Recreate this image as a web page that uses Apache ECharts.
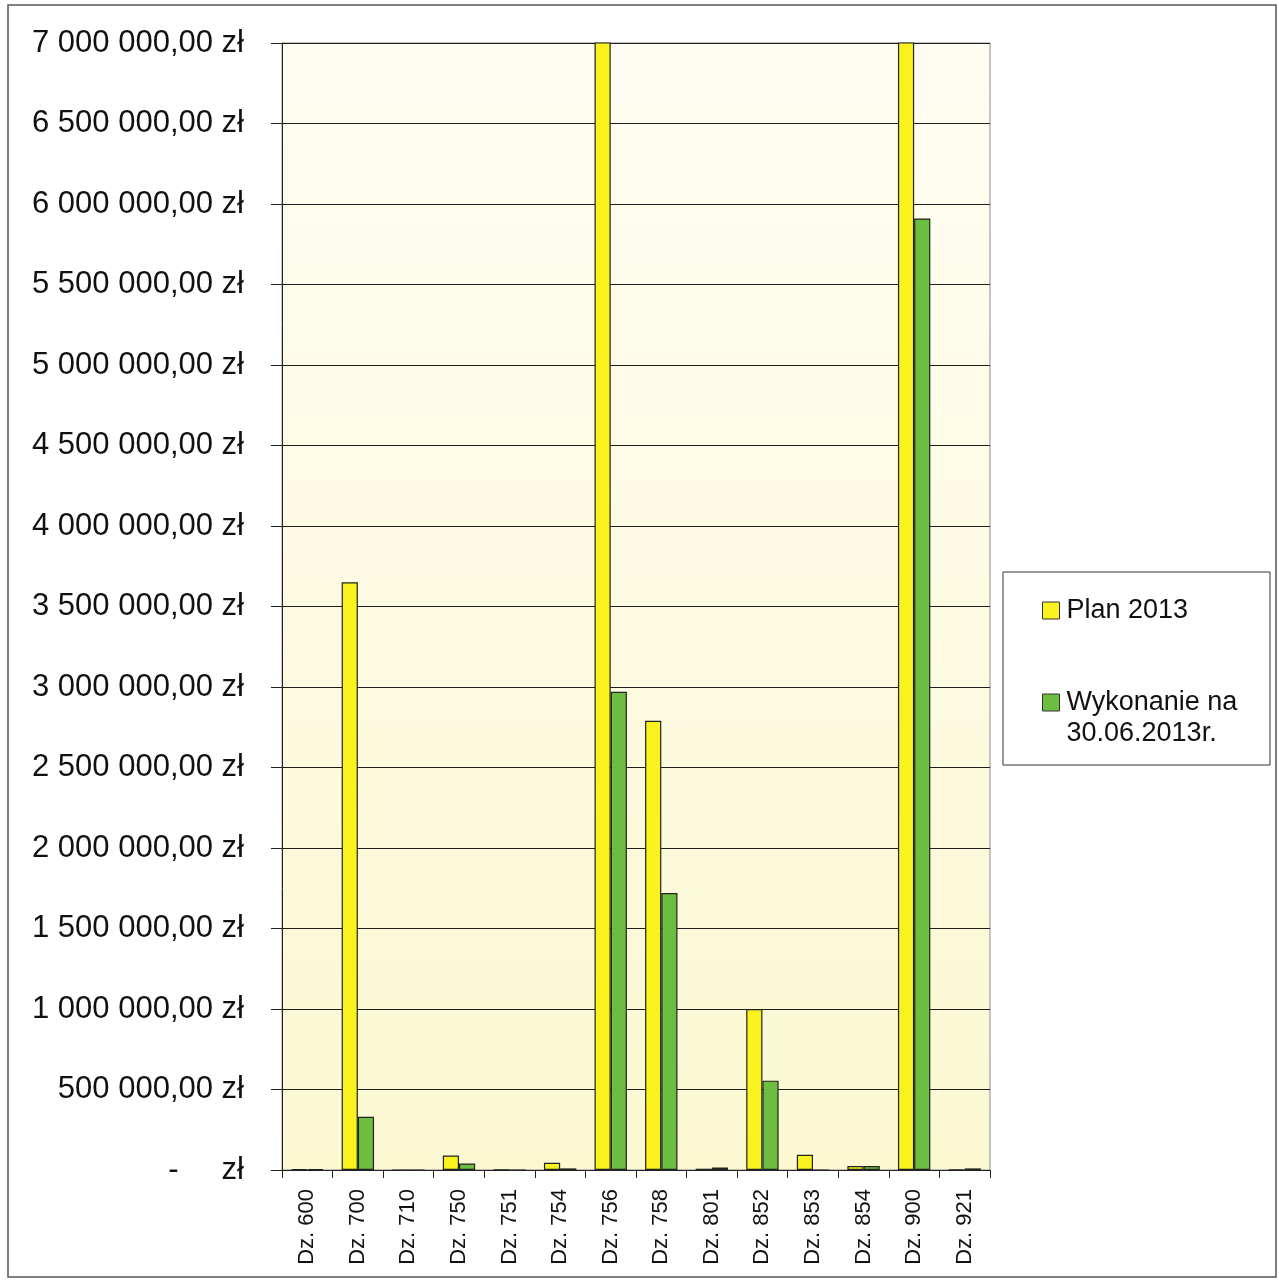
<!DOCTYPE html>
<html>
<head>
<meta charset="utf-8">
<script src="https://cdn.jsdelivr.net/npm/echarts@6/dist/echarts.min.js"></script>
<style>html,body{margin:0;padding:0;background:#fff}#c{width:1279px;height:1281px}</style>
</head>
<body>
<div id="c"></div>
<script>
const categories = ['Dz. 600','Dz. 700','Dz. 710','Dz. 750','Dz. 751','Dz. 754','Dz. 756','Dz. 758','Dz. 801','Dz. 852','Dz. 853','Dz. 854','Dz. 900','Dz. 921'];
const planValues = [5000, 3650000, 0, 90000, 1000, 45000, 7600000, 2790000, 8000, 1000000, 95000, 25000, 7600000, 3000];
const wykonanieValues = [5000, 330000, 0, 40000, 0, 10000, 2970000, 1720000, 15000, 555000, 0, 25000, 5910000, 10000];
const seriesNames = ['Plan 2013', 'Wykonanie na\n30.06.2013r.'];
const yTicks = {min: 0, max: 7000000, interval: 500000};

function fmt(v){
  if (v === 0) return '-     zł';
  return String(Math.round(v)).replace(/\B(?=(\d{3})+(?!\d))/g, ' ') + ',00 zł';
}

const chart = echarts.init(document.getElementById('c'));
const FONT = 'Liberation Sans, Arial, sans-serif';
chart.setOption({
  backgroundColor: '#ffffff',
  animation: false,
  textStyle: {fontFamily: FONT},
  grid: {
    left: 282, right: 289, top: 43, bottom: 111,
    show: true,
    borderColor: '#8a8a8a', borderWidth: 1,
    backgroundColor: new echarts.graphic.LinearGradient(0, 0, 0, 1, [
      {offset: 0, color: '#fffdf2'},
      {offset: 1, color: '#fbf8d2'}
    ])
  },
  legend: {
    orient: 'vertical',
    left: 1037, top: 592,
    itemWidth: 17, itemHeight: 17,
    itemGap: 34,
    icon: 'rect',
    data: seriesNames,
    formatter: function(name){
      return name === seriesNames[0] ? '{a|' + name + '}' : '{b|\n' + name + '}';
    },
    itemStyle: {borderColor: '#333', borderWidth: 1},
    textStyle: {
      fontFamily: FONT, fontSize: 27, color: '#111',
      rich: {
        a: {fontFamily: FONT, fontSize: 27, color: '#111', lineHeight: 31, padding: [0, 0, 0, 2]},
        b: {fontFamily: FONT, fontSize: 27, color: '#111', lineHeight: 31, padding: [0, 0, 0, 2]}
      }
    }
  },
  graphic: [
    {type: 'rect', shape: {x: 8, y: 5, width: 1268, height: 1272}, style: {fill: 'none', stroke: '#555', lineWidth: 1.5}, silent: true},
    {type: 'rect', shape: {x: 1003, y: 572, width: 267, height: 193}, style: {fill: 'none', stroke: '#333', lineWidth: 1}, silent: true}
  ],
  xAxis: {
    type: 'category',
    data: categories,
    axisLine: {lineStyle: {color: '#222', width: 1}},
    axisTick: {show: true, interval: 0, length: 8, lineStyle: {color: '#222'}},
    axisLabel: {rotate: 90, interval: 0, margin: 19, fontSize: 22, color: '#111', fontFamily: FONT}
  },
  yAxis: {
    type: 'value',
    min: yTicks.min, max: yTicks.max, interval: yTicks.interval,
    axisLine: {show: true, lineStyle: {color: '#222', width: 1}},
    axisTick: {show: true, length: 11, lineStyle: {color: '#222'}},
    splitLine: {show: true, lineStyle: {color: '#1e1e1e', width: 1}},
    axisLabel: {formatter: fmt, fontSize: 31, color: '#111', margin: 38, fontFamily: FONT}
  },
  series: [
    {
      name: seriesNames[0], type: 'bar', data: planValues,
      barGap: '0%', barCategoryGap: '36%',
      itemStyle: {color: '#f9f21c', borderColor: '#222', borderWidth: 1.2},
      clip: true
    },
    {
      name: seriesNames[1], type: 'bar', data: wykonanieValues,
      itemStyle: {color: '#6dbd40', borderColor: '#222', borderWidth: 1.2},
      clip: true
    }
  ]
});
</script>
</body>
</html>
